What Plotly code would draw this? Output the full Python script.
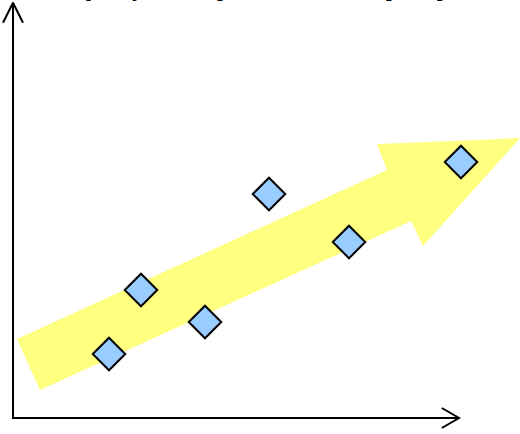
import plotly.graph_objects as go

# scattered sample points (axis units, origin at the arrow corner)
sample_x = [2.4, 3.2, 4.8, 6.4, 8.4, 11.2]
sample_y = [1.6, 3.2, 2.4, 5.6, 4.4, 6.4]

# outline of the yellow trend arrow (same units)
trend_x = [0.1, 9.35, 9.1, 12.675, 10.25, 9.95, 0.675, 0.1]
trend_y = [1.975, 6.2, 6.85, 7.0, 4.3, 4.925, 0.7, 1.975]

title_text = "Quality versus gain in each batch [units]"

# axis extents
x_end = 11.15
y_end = 10.38

fig = go.Figure()

fig.add_trace(
    go.Scatter(
        x=trend_x,
        y=trend_y,
        mode="lines",
        fill="toself",
        fillcolor="#FFFF80",
        line=dict(width=0),
        hoverinfo="skip",
    )
)

# axes with open chevron heads
ax_x = [-0.25, 0, 0.25, None, 0, 0, x_end, None, x_end - 0.43, x_end, x_end - 0.43]
ax_y = [y_end - 0.5, y_end, y_end - 0.5, None, y_end, 0, 0, None, 0.25, 0, -0.25]
fig.add_trace(
    go.Scatter(
        x=ax_x,
        y=ax_y,
        mode="lines",
        line=dict(color="black", width=2),
        hoverinfo="skip",
    )
)

fig.add_trace(
    go.Scatter(
        x=sample_x,
        y=sample_y,
        mode="markers",
        marker=dict(
            symbol="diamond",
            size=25,
            color="#99CCFF",
            line=dict(color="black", width=2),
        ),
    )
)

# title sits mostly above the page edge, as in the original
fig.add_annotation(
    text="<b>" + title_text + "</b>",
    xref="paper",
    yref="paper",
    x=0.5,
    y=1 - 3 / 434,
    xanchor="center",
    yanchor="bottom",
    showarrow=False,
    font=dict(family="Liberation Sans, Arial", size=19, color="black"),
)

fig.update_layout(
    width=520,
    height=434,
    margin=dict(l=0, r=0, t=0, b=0),
    paper_bgcolor="white",
    plot_bgcolor="white",
    showlegend=False,
    xaxis=dict(range=[-0.325, 12.675], visible=False, fixedrange=True),
    yaxis=dict(range=[-0.4, 10.45], visible=False, fixedrange=True),
)

# drop the browser's default body margin so the figure sits at the page corner
fig.write_html(
    "out.html",
    config={"displayModeBar": False},
    post_script="document.body.style.margin = '0';",
)
